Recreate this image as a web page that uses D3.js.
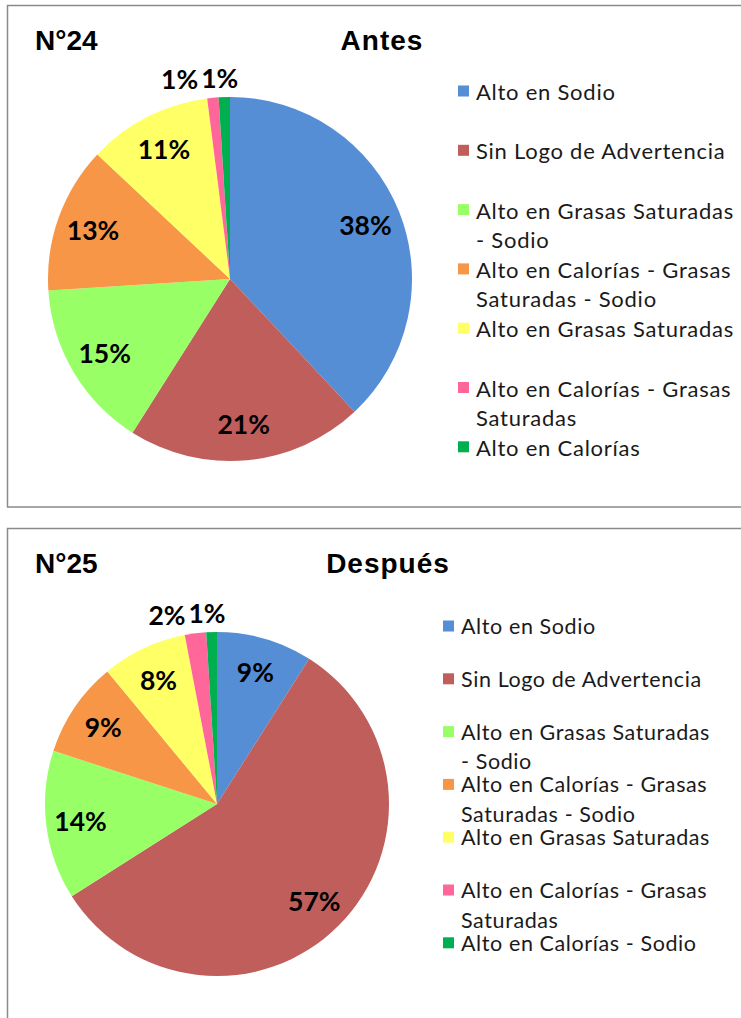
<!DOCTYPE html>
<html>
<head>
<meta charset="utf-8">
<script src="https://cdn.jsdelivr.net/npm/d3@7"></script>
<style>
  body { margin: 0; background: #fff; }
  svg { display: block; }
</style>
</head>
<body>
<svg id="chart"></svg>
<script>
// data
const categoriesAntes = [
  "Alto en Sodio",
  "Sin Logo de Advertencia",
  "Alto en Grasas Saturadas - Sodio",
  "Alto en Calorías - Grasas Saturadas - Sodio",
  "Alto en Grasas Saturadas",
  "Alto en Calorías - Grasas Saturadas",
  "Alto en Calorías"
];
const valuesAntes = [38, 21, 15, 13, 11, 1, 1];

const categoriesDespues = [
  "Alto en Sodio",
  "Sin Logo de Advertencia",
  "Alto en Grasas Saturadas - Sodio",
  "Alto en Calorías - Grasas Saturadas - Sodio",
  "Alto en Grasas Saturadas",
  "Alto en Calorías - Grasas Saturadas",
  "Alto en Calorías - Sodio"
];
const valuesDespues = [9, 57, 14, 9, 8, 2, 1];

const sliceColors = ["#558ED5", "#BF5E5B", "#99FF66", "#F79646", "#FFFF66", "#FF6699", "#00B050"];

const width = 741, height = 1018;
const svg = d3.select("#chart").attr("width", width).attr("height", height);

const labelFont = "Lato, 'Open Sans', sans-serif";
const titleFont = "'Liberation Sans', Arial, sans-serif";

// one panel per chart
const panels = [
  {
    number: "N°24", title: "Antes",
    categories: categoriesAntes, values: valuesAntes,
    box: [7.5, 5.5, 800, 501.5],
    titleY: 50, titleX: 382,
    cx: 230, cy: 279, r: 182,
    legX: 458, legY: 91, legStep: 59.3, lineH: 29.5,
    legFont: 22, legSpacing: 0.75, wrapW: 263
  },
  {
    number: "N°25", title: "Después",
    categories: categoriesDespues, values: valuesDespues,
    box: [7.5, 528.5, 800, 600],
    titleY: 573, titleX: 388,
    cx: 217, cy: 804, r: 172,
    legX: 443, legY: 626, legStep: 52.8, lineH: 29.5,
    legFont: 21.5, legSpacing: 0.6, wrapW: 253
  }
];

const pie = d3.pie().sort(null).value(d => d.value);

panels.forEach(p => {
  const g = svg.append("g");

  g.append("rect")
    .attr("x", p.box[0]).attr("y", p.box[1])
    .attr("width", p.box[2]).attr("height", p.box[3])
    .attr("fill", "#fff")
    .attr("stroke", "#8a8a8a")
    .attr("stroke-width", 1.5);

  g.append("text")
    .attr("x", 35).attr("y", p.titleY)
    .attr("font-family", titleFont).attr("font-weight", "bold")
    .attr("font-size", 28)
    .text(p.number);

  g.append("text")
    .attr("x", p.titleX).attr("y", p.titleY)
    .attr("text-anchor", "middle")
    .attr("font-family", titleFont).attr("font-weight", "bold")
    .attr("font-size", 28)
    .attr("letter-spacing", 1)
    .text(p.title);

  const data = p.categories.map((c, i) => ({ name: c, value: p.values[i], color: sliceColors[i] }));
  const arcs = pie(data);
  const arc = d3.arc().innerRadius(0).outerRadius(p.r);
  const inArc = d3.arc().innerRadius(p.r * 0.8).outerRadius(p.r * 0.8);
  const outArc = d3.arc().innerRadius(p.r + 19).outerRadius(p.r + 19);

  const pg = g.append("g").attr("transform", `translate(${p.cx},${p.cy})`);

  pg.selectAll("path")
    .data(arcs)
    .join("path")
    .attr("d", arc)
    .attr("fill", d => d.data.color);

  const labels = pg.selectAll("text.lbl")
    .data(arcs)
    .join("text")
    .attr("class", "lbl")
    .attr("text-anchor", "middle")
    .attr("dominant-baseline", "central")
    .attr("font-family", labelFont)
    .attr("font-weight", "bold")
    .attr("font-size", 26.5)
    .attr("fill", "#000")
    .text(d => d.data.value + "%")
    .each(function (d) {
      const pt = d.data.value < 3 ? outArc.centroid(d) : inArc.centroid(d);
      d.lx = pt[0];
      d.ly = pt[1];
    });

  // small outside labels: push them left so they do not overlap
  let limit = Infinity;
  labels.filter(d => d.data.value < 3).nodes().reverse().forEach(node => {
    const d = d3.select(node).datum();
    const w = node.getComputedTextLength();
    let right = d.lx - 4 + w / 2;
    if (right > limit) right = limit;
    d.lx = right - w / 2;
    limit = right - w - 3;
  });

  labels.attr("x", d => d.lx).attr("y", d => d.ly);

  // legend
  const leg = g.append("g");
  data.forEach((d, i) => {
    const y = p.legY + i * p.legStep;
    leg.append("rect")
      .attr("x", p.legX).attr("y", y - 5.5)
      .attr("width", 11).attr("height", 11)
      .attr("fill", d.color);

    const t = leg.append("text")
      .attr("font-family", labelFont)
      .attr("font-size", p.legFont)
      .attr("fill", "#1a1a1a")
      .attr("letter-spacing", p.legSpacing)
      .attr("dominant-baseline", "central");

    // word wrap inside the legend width
    const words = d.name.split(" ");
    let line = [];
    let lineNo = 0;
    let span = t.append("tspan").attr("x", p.legX + 18).attr("y", y);
    words.forEach(w => {
      line.push(w);
      span.text(line.join(" "));
      if (span.node().getComputedTextLength() > p.wrapW && line.length > 1) {
        line.pop();
        span.text(line.join(" "));
        line = [w];
        lineNo++;
        span = t.append("tspan")
          .attr("x", p.legX + 18)
          .attr("y", y + lineNo * p.lineH)
          .text(w);
      }
    });
  });
});
</script>
</body>
</html>
